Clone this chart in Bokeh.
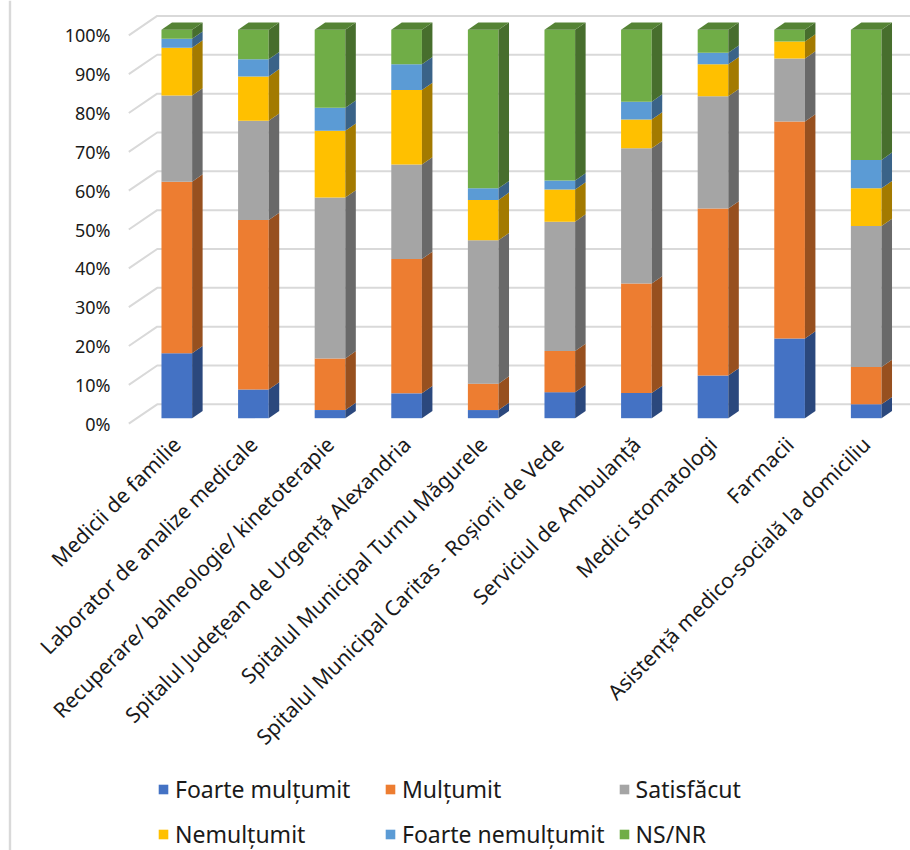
from math import pi
from bokeh.plotting import figure
from bokeh.models import (ColumnDataSource, Range1d, LinearAxis, FixedTicker,
                          Legend, LegendItem, PrintfTickFormatter, Span)
from bokeh.embed import file_html
from bokeh.resources import INLINE

# ---------------- data ----------------
categories = [
    "Medicii de familie",
    "Laborator de analize medicale",
    "Recuperare/ balneologie/ kinetoterapie",
    "Spitalul Județean de Urgență Alexandria",
    "Spitalul Municipal Turnu Măgurele",
    "Spitalul Municipal Caritas - Roșiorii de Vede",
    "Serviciul de Ambulanță",
    "Medici stomatologi",
    "Farmacii",
    "Asistență medico-socială la domiciliu",
]
foarte_multumit = [16.7, 7.4, 2.1, 6.4, 2.1, 6.7, 6.5, 11.0, 20.5, 3.6]
multumit = [44.2, 43.6, 13.3, 34.6, 6.8, 10.6, 28.2, 43.0, 55.9, 9.6]
satisfacut = [22.2, 25.6, 41.4, 24.3, 36.9, 33.3, 34.8, 28.9, 16.2, 36.3]
nemultumit = [12.3, 11.4, 17.2, 19.2, 10.4, 8.3, 7.4, 8.2, 4.4, 9.7]
foarte_nemultumit = [2.3, 4.4, 5.9, 6.6, 3.0, 2.3, 4.6, 3.0, 0.0, 7.3]
ns_nr = [2.3, 7.6, 20.1, 8.9, 40.8, 38.8, 18.5, 5.9, 3.0, 33.5]

series_names = ["Foarte mulțumit", "Mulțumit", "Satisfăcut",
                "Nemulțumit", "Foarte nemulțumit", "NS/NR"]
series_values = [foarte_multumit, multumit, satisfacut,
                 nemultumit, foarte_nemultumit, ns_nr]
colors = ["#4472C4", "#ED7D31", "#A5A5A5", "#FFC000", "#5B9BD5", "#70AD47"]
y_ticks = list(range(0, 101, 10))

# ---------------- layout constants ----------------
FONT = "Noto Sans"
W, H = 910, 850
PX_X = 76.6              # px per category
PX_Y = 3.884             # px per percent
X0 = -176.3 / PX_X       # first bar centre at 176 px
X1 = X0 + W / PX_X
Y1 = 100 + 29.3 / PX_Y   # 100 % front edge at 29 px
Y0 = Y1 - H / PX_Y
AXIS_Y = -12.3 / PX_Y            # category axis line (430 px)
YAXIS_X = X0 + 120 / PX_X        # value axis position (120 px)
BORDER_X = X0 + 9.5 / PX_X       # chart-area left border

HW = 0.2                 # half bar width (category units)
DX = 10.5 / PX_X         # 3D depth of bars
DY = 7.3 / PX_Y
FRONT_X, FRONT_DY = X0 + 128.3 / PX_X, 5.5 / PX_Y     # side wall front edge
BACK_X, BACK_DY = X0 + 156.7 / PX_X, 13.85 / PX_Y     # back wall


def shade(hex_color, f):
    h = hex_color.lstrip("#")
    r, g, b = (int(h[i:i + 2], 16) for i in (0, 2, 4))
    return "#%02x%02x%02x" % (int(r * f), int(g * f), int(b * f))


n = len(categories)
xs = list(range(n))
totals = [sum(s[i] for s in series_values) for i in range(n)]

p = figure(width=W, height=H, x_range=Range1d(X0, X1), y_range=Range1d(Y0, Y1),
           output_backend="svg", toolbar_location=None, y_axis_location=None,
           min_border_left=0, min_border_right=0, min_border_top=0,
           min_border_bottom=0)
p.outline_line_color = None
p.xgrid.visible = False
p.ygrid.visible = False
p.background_fill_color = "white"
p.border_fill_color = "white"

# chart-area border on the left
p.add_layout(Span(location=BORDER_X, dimension="height",
                  line_color="#d9d9d9", line_width=2.4))

# y axis (labels sit on the front edge of the 3D box)
p.extra_y_ranges = {"front": Range1d(Y0 + FRONT_DY, Y1 + FRONT_DY)}
yaxis = LinearAxis(y_range_name="front", ticker=FixedTicker(ticks=y_ticks),
                   formatter=PrintfTickFormatter(format="%d%%"),
                   fixed_location=YAXIS_X)
yaxis.axis_line_color = None
yaxis.major_tick_line_color = None
yaxis.minor_tick_line_color = None
yaxis.major_tick_out = 0
yaxis.major_tick_in = 0
yaxis.major_label_standoff = 10
yaxis.major_label_text_font = FONT
yaxis.major_label_text_font_size = "18px"
yaxis.major_label_text_color = "#1a1a1a"
p.add_layout(yaxis, "left")

# x axis (category labels, rotated)
xaxis = p.xaxis[0]
xaxis.fixed_location = AXIS_Y
xaxis.ticker = FixedTicker(ticks=xs)
xaxis.major_label_overrides = {i: c for i, c in enumerate(categories)}
xaxis.major_label_orientation = pi / 4
xaxis.axis_line_color = None
xaxis.major_tick_line_color = None
xaxis.minor_tick_line_color = None
xaxis.major_tick_out = 0
xaxis.major_tick_in = 0
xaxis.major_label_standoff = 10
xaxis.major_label_text_font = FONT
xaxis.major_label_text_font_size = "21px"
xaxis.major_label_text_color = "#1a1a1a"

# 3D gridlines: side wall slant + back wall
grid_xs = [[FRONT_X, BACK_X, X1 + 1] for _ in y_ticks]
grid_ys = [[v - FRONT_DY, v + BACK_DY, v + BACK_DY] for v in y_ticks]
p.multi_line(grid_xs, grid_ys, line_color="#d9d9d9", line_width=2)

# stacked 3D bars
renderers = []
bottom = [0.0] * n
for name, vals, col in zip(series_names, series_values, colors):
    pct = [v / t * 100 for v, t in zip(vals, totals)]
    top = [b + v for b, v in zip(bottom, pct)]
    src = ColumnDataSource(dict(x=xs, bottom=bottom, top=top))
    r = p.vbar(x="x", bottom="bottom", top="top", width=2 * HW, source=src,
               fill_color=col, line_color=None)
    renderers.append(r)
    side_xs = [[x + HW, x + HW + DX, x + HW + DX, x + HW] for x in xs]
    side_ys = [[b, b + DY, t + DY, t] for b, t in zip(bottom, top)]
    p.patches(side_xs, side_ys, fill_color=shade(col, 0.64), line_color=None)
    bottom = top

# top faces (colour of topmost non-empty segment)
top_xs, top_ys, top_cols = [], [], []
for i in xs:
    k = max(j for j in range(len(series_values)) if series_values[j][i] > 0)
    top_xs.append([i - HW, i + HW, i + HW + DX, i - HW + DX])
    top_ys.append([100, 100, 100 + DY, 100 + DY])
    top_cols.append(shade(colors[k], 0.76))
p.patches(top_xs, top_ys, fill_color=top_cols, line_color=None)

# legend (inside the tall frame, under the category labels)
SP = 13
legend = Legend(items=[LegendItem(label=nm, renderers=[r])
                       for nm, r in zip(series_names, renderers)],
                orientation="horizontal", ncols=3)
legend.location = (157, 0)
legend.border_line_color = None
legend.background_fill_alpha = 0
legend.padding = 0
legend.margin = 0
legend.spacing = SP
legend.glyph_width = 12
legend.glyph_height = 12
legend.label_standoff = 6
legend.label_width = 196
legend.label_height = 14
legend.label_text_font = FONT
legend.label_text_font_size = "23px"
legend.label_text_color = "#1a1a1a"
p.add_layout(legend, "center")

open("out.html", "w").write(file_html(p, INLINE))
